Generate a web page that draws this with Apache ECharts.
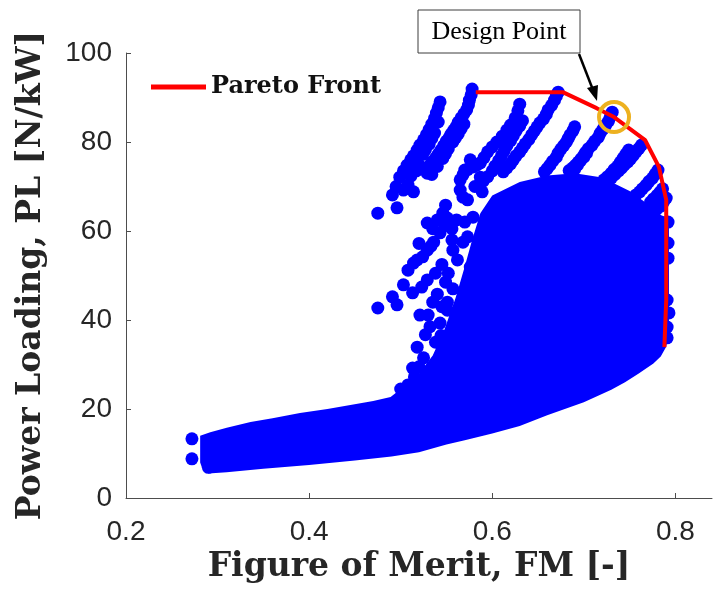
<!DOCTYPE html>
<html>
<head>
<meta charset="utf-8">
<title>Pareto Front</title>
<script src="https://cdn.jsdelivr.net/npm/echarts@6/dist/echarts.min.js"></script>
<style>
  html, body { margin: 0; padding: 0; background: #fff; }
  #chart { width: 714px; height: 592px; }
</style>
</head>
<body>
<div id="chart"></div>
<script>
// Axis ticks
const fmTicks = [0.2, 0.4, 0.6, 0.8];
const plTicks = [0, 20, 40, 60, 80, 100];

// Solid body of the design cloud (outline, FM / PL)
const denseOutline = [
    [0.281, 14.0], [0.292, 14.8], [0.31, 15.8], [0.336, 17.1], [0.36, 17.9], [0.39, 19.1],
    [0.42, 20.0], [0.445, 20.9], [0.47, 21.8], [0.489, 22.7], [0.507, 25.6], [0.52, 28.0],
    [0.535, 32.0], [0.548, 38.0], [0.56, 45.0], [0.57, 52.0], [0.578, 58.0], [0.587, 64.0],
    [0.60, 68.0], [0.63, 71.0], [0.66, 72.5], [0.69, 73.0], [0.72, 72.0], [0.75, 69.0],
    [0.77, 66.0], [0.785, 63.5], [0.793, 63.0], [0.793, 37.0], [0.79, 34.0], [0.784, 31.8],
    [0.776, 30.2], [0.76, 28.0], [0.745, 26.0], [0.73, 24.3], [0.70, 21.5], [0.66, 18.6],
    [0.63, 16.2], [0.60, 14.5], [0.57, 13.0], [0.55, 12.0], [0.52, 10.3], [0.49, 9.3],
    [0.45, 8.4], [0.40, 7.4], [0.35, 6.6], [0.31, 5.8], [0.29, 5.5], [0.283, 6.8], [0.281, 8.0]
];

// Individual designs outside the solid body
const upperLeftDesigns = [
    [0.475, 64.0],
    [0.491, 68.1], [0.495, 70.0], [0.499, 72.1], [0.503, 73.5], [0.507, 74.8], [0.511, 76.0],
    [0.514, 76.9], [0.518, 78.2], [0.521, 79.3], [0.525, 80.5], [0.528, 81.6], [0.531, 82.8],
    [0.534, 84.0], [0.537, 85.3], [0.539, 86.5], [0.541, 87.7], [0.543, 89.0],
    [0.496, 65.2], [0.503, 69.2], [0.508, 70.3], [0.514, 68.8], [0.511, 72.3], [0.517, 73.5],
    [0.520, 74.8], [0.524, 77.2], [0.527, 78.3], [0.531, 79.5], [0.534, 80.8], [0.537, 82.0],
    [0.541, 84.5],
    [0.578, 91.9], [0.577, 90.6], [0.575, 89.4], [0.574, 88.3], [0.572, 87.2], [0.569, 86.3],
    [0.566, 85.4], [0.563, 84.5], [0.561, 83.6], [0.558, 82.7], [0.555, 81.8], [0.553, 81.0],
    [0.550, 80.2], [0.547, 79.2], [0.544, 78.2], [0.541, 77.3], [0.538, 76.4], [0.534, 75.5],
    [0.531, 74.6], [0.529, 73.0],
    [0.569, 84.0], [0.566, 83.0], [0.563, 81.9], [0.560, 81.0], [0.557, 80.0], [0.552, 78.5],
    [0.549, 77.4], [0.546, 76.3], [0.540, 74.5], [0.534, 72.7],
    [0.549, 65.8], [0.551, 62.9], [0.546, 64.0], [0.565, 69.2], [0.568, 67.6], [0.573, 67.0],
    [0.630, 88.5], [0.628, 87.0], [0.625, 85.4], [0.620, 83.8], [0.616, 82.7], [0.611, 81.3],
    [0.605, 80.0], [0.600, 78.9], [0.595, 77.8], [0.591, 76.5], [0.587, 75.3], [0.583, 74.8],
    [0.579, 74.4], [0.576, 76.0], [0.573, 73.8], [0.570, 73.7], [0.568, 72.6], [0.565, 71.5],
    [0.633, 84.8], [0.630, 83.6], [0.626, 82.5], [0.623, 81.4], [0.620, 80.3], [0.616, 79.2],
    [0.613, 78.0], [0.610, 76.9], [0.607, 75.8], [0.603, 74.6], [0.600, 73.5], [0.595, 72.2],
    [0.590, 71.2], [0.587, 72.1], [0.581, 70.0], [0.589, 68.8]
];

const lowerLeftDesigns = [
    [0.475, 42.7], [0.491, 45.2], [0.496, 43.4], [0.503, 47.9], [0.513, 46.1], [0.508, 51.2],
    [0.514, 52.8], [0.524, 54.2], [0.529, 55.7], [0.536, 57.5], [0.543, 59.6], [0.529, 61.8],
    [0.521, 41.1], [0.530, 41.1], [0.543, 39.3], [0.551, 44.0], [0.551, 42.2], [0.529, 49.0],
    [0.549, 48.5], [0.557, 55.7], [0.573, 58.7], [0.579, 63.1], [0.576, 51.9], [0.518, 33.9],
    [0.513, 29.2], [0.508, 25.4],
    [0.535, 60.5], [0.540, 62.5], [0.556, 60.5], [0.561, 62.5], [0.556, 58.0], [0.562, 53.5],
    [0.545, 52.5], [0.538, 50.5], [0.520, 57.2], [0.523, 47.4], [0.540, 45.8], [0.535, 44.0],
    [0.557, 47.0], [0.544, 36.5], [0.538, 35.0], [0.527, 36.7], [0.532, 38.5], [0.525, 31.5],
    [0.520, 29.5], [0.515, 27.2], [0.500, 24.5], [0.568, 57.5], [0.570, 62.0],
    [0.518, 53.5], [0.533, 56.6], [0.548, 61.2], [0.552, 50.5], [0.545, 43.0]
];

const upperRightDesigns = [
    [0.672, 91.2], [0.670, 90.3], [0.668, 89.4], [0.665, 88.3], [0.661, 87.2], [0.659, 86.2],
    [0.656, 85.2], [0.652, 84.3], [0.649, 83.4], [0.646, 82.5], [0.643, 81.6], [0.640, 80.6],
    [0.636, 79.6], [0.633, 78.7], [0.630, 77.8], [0.626, 76.9], [0.623, 76.0], [0.620, 75.1],
    [0.616, 74.2], [0.612, 73.3],
    [0.690, 83.4], [0.688, 82.5], [0.685, 81.6], [0.683, 80.8], [0.681, 80.0], [0.678, 79.2],
    [0.675, 78.4], [0.672, 77.5], [0.670, 76.6], [0.666, 75.7], [0.663, 74.8], [0.660, 74.0],
    [0.657, 73.3],
    [0.705, 78.5], [0.702, 77.7], [0.700, 77.0], [0.697, 76.2], [0.694, 75.5], [0.691, 74.8],
    [0.688, 74.2], [0.684, 73.6],
    [0.731, 86.7], [0.729, 85.7], [0.727, 84.7], [0.724, 83.8], [0.721, 82.9], [0.718, 82.0],
    [0.716, 81.1], [0.712, 80.2], [0.709, 79.3], [0.703, 77.5], [0.700, 76.6], [0.696, 75.7],
    [0.693, 74.8], [0.690, 73.9],
    [0.749, 78.2], [0.746, 77.3], [0.743, 76.4], [0.740, 75.5], [0.737, 74.6], [0.733, 73.8],
    [0.730, 73.0], [0.726, 72.2], [0.722, 71.5],
    [0.763, 79.3], [0.760, 78.5], [0.757, 77.8], [0.754, 77.0], [0.751, 76.2], [0.748, 75.5],
    [0.744, 74.8], [0.741, 74.1], [0.738, 73.5], [0.734, 72.7], [0.730, 71.9],
    [0.781, 73.7], [0.778, 72.8], [0.775, 71.9], [0.771, 71.1], [0.768, 70.3], [0.764, 69.5],
    [0.761, 68.8], [0.757, 68.1], [0.753, 67.4],
    [0.786, 69.5], [0.783, 68.7], [0.780, 68.0], [0.776, 67.2], [0.773, 66.5],
    [0.790, 67.4], [0.787, 66.5], [0.784, 65.6], [0.780, 65.0], [0.776, 64.3], [0.772, 63.6],
    [0.768, 62.9]
];

const edgeDesigns = [
    [0.272, 13.3], [0.272, 8.8], [0.290, 6.9],
    [0.792, 62.0], [0.792, 57.3], [0.792, 53.9], [0.791, 44.5], [0.793, 41.6], [0.791, 38.4],
    [0.791, 36.0]
];

// Pareto front
const paretoFM = [0.582, 0.677, 0.714, 0.733, 0.767, 0.782, 0.790, 0.790, 0.788];
const paretoPL = [91.2, 91.2, 87.6, 85.6, 80.4, 74.4, 67.0, 44.5, 33.9];

// Selected design
const designPoint = [0.733, 85.6];

const BLUE = '#0000ff';
const chart = echarts.init(document.getElementById('chart'));

const titleStyle = {
    fontFamily: 'DejaVu Serif',
    fontWeight: 'bold',
    fontSize: 33,
    color: '#262626'
};

function cloud(data) {
    return {
        type: 'scatter',
        data: data,
        symbol: 'circle',
        symbolSize: 13,
        itemStyle: { color: BLUE, opacity: 1 },
        silent: true,
        z: 2
    };
}

const option = {
    animation: false,
    backgroundColor: '#ffffff',
    grid: { left: 126, top: 53, right: 2, bottom: 94 },
    legend: {
        data: ['Pareto Front'],
        left: 146,
        top: 70,
        icon: 'rect',
        itemWidth: 55,
        itemHeight: 5,
        textStyle: {
            fontFamily: 'DejaVu Serif',
            fontWeight: 'bold',
            fontSize: 24,
            color: '#111'
        }
    },
    xAxis: {
        type: 'value',
        min: 0.2,
        max: 0.84,
        interval: 0.2,
        name: 'Figure of Merit, FM [-]',
        nameLocation: 'middle',
        nameGap: 50,
        nameTextStyle: titleStyle,
        splitLine: { show: false },
        axisLine: { lineStyle: { color: '#4d4d4d', width: 1 } },
        axisTick: { inside: true, length: 5, customValues: fmTicks, lineStyle: { color: '#4d4d4d' } },
        axisLabel: {
            customValues: fmTicks,
            margin: 20,
            fontFamily: 'Liberation Sans',
            fontSize: 28,
            color: '#262626',
            formatter: function (v) { return v.toFixed(1); }
        }
    },
    yAxis: {
        type: 'value',
        min: 0,
        max: 100,
        interval: 20,
        name: 'Power Loading, PL [N/kW]',
        nameLocation: 'middle',
        nameGap: 78,
        nameTextStyle: titleStyle,
        splitLine: { show: false },
        axisLine: { show: true, lineStyle: { color: '#4d4d4d', width: 1 } },
        axisTick: { show: true, inside: true, length: 5, customValues: plTicks, lineStyle: { color: '#4d4d4d' } },
        axisLabel: {
            customValues: plTicks,
            margin: 14,
            fontFamily: 'Liberation Sans',
            fontSize: 28,
            color: '#262626'
        }
    },
    series: [
        {
            type: 'custom',
            coordinateSystem: 'cartesian2d',
            data: [[0.6, 40]],
            silent: true,
            z: 1,
            renderItem: function (params, api) {
                return {
                    type: 'polygon',
                    shape: { points: denseOutline.map(function (p) { return api.coord(p); }) },
                    style: { fill: BLUE }
                };
            }
        },
        cloud(upperLeftDesigns),
        cloud(lowerLeftDesigns),
        cloud(upperRightDesigns),
        cloud(edgeDesigns),
        {
            name: 'Pareto Front',
            type: 'line',
            data: paretoFM.map(function (fm, i) { return [fm, paretoPL[i]]; }),
            showSymbol: false,
            symbol: 'none',
            itemStyle: { color: '#ff0000' },
            lineStyle: { color: '#ff0000', width: 4 },
            silent: true,
            z: 5
        },
        {
            type: 'scatter',
            data: [designPoint],
            symbol: 'circle',
            symbolSize: 30,
            itemStyle: { color: 'rgba(0,0,0,0)', borderColor: '#EDB120', borderWidth: 4, opacity: 1 },
            silent: true,
            z: 6
        }
    ],
    graphic: [
        {
            type: 'rect',
            shape: { x: 418, y: 10, width: 162, height: 43 },
            style: { fill: '#ffffff', stroke: '#3c3c3c', lineWidth: 1 },
            z: 10
        },
        {
            type: 'text',
            x: 499,
            y: 32,
            style: {
                text: 'Design Point',
                fontFamily: 'Liberation Serif',
                fontSize: 26,
                fill: '#000',
                align: 'center',
                verticalAlign: 'middle'
            },
            z: 11
        },
        {
            type: 'line',
            shape: { x1: 579, y1: 54, x2: 593, y2: 90 },
            style: { stroke: '#000', lineWidth: 2.5 },
            z: 10
        },
        {
            type: 'polygon',
            shape: { points: [[597, 101], [587, 88], [598, 85]] },
            style: { fill: '#000' },
            z: 10
        }
    ]
};

chart.setOption(option);
</script>
</body>
</html>
